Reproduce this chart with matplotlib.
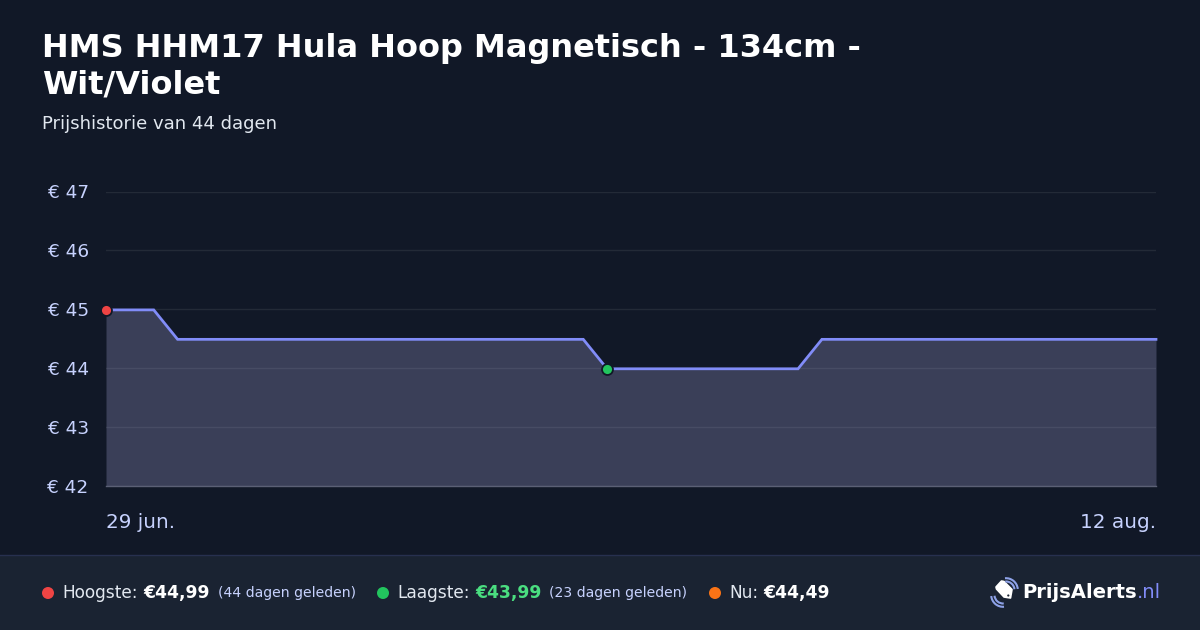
import matplotlib
matplotlib.use("Agg")
import matplotlib.pyplot as plt
from matplotlib.patches import Rectangle, Polygon, Arc, Circle
from matplotlib.ticker import FixedLocator, FuncFormatter

# ---- data ----
prices = [44.99, 44.99, 44.99] + [44.49] * 18 + [43.99] * 9 + [44.49] * 15
days = list(range(len(prices)))
y_ticks = [42, 43, 44, 45, 46, 47]
x_labels = ["29 jun.", "12 aug."]
high_idx = 0
low_idx = 21

title_lines = ["HMS HHM17 Hula Hoop Magnetisch - 134cm -", "Wit/Violet"]
subtitle = "Prijshistorie van 44 dagen"

W, H = 1200, 630
BG = "#111827"
FOOT = "#1a2332"
px = lambda v: v * 72 / 100

plt.rcParams["font.family"] = ["DejaVu Sans"]
fig = plt.figure(figsize=(12, 6.3), dpi=100, facecolor=BG)

# overlay in pixel coordinates for the footer and text
ov = fig.add_axes([0, 0, 1, 1], zorder=0)
ov.set_xlim(0, W)
ov.set_ylim(H, 0)
ov.axis("off")
ov.add_patch(Rectangle((0, 555), W, 75, fc=FOOT, ec="none"))
ov.plot([0, W], [554.5, 554.5], color="#27304f", lw=1)

ov.text(42, 48, title_lines[0], color="white", fontsize=px(32), fontweight="bold", va="center", ha="left")
ov.text(42, 85, title_lines[1], color="white", fontsize=px(32), fontweight="bold", va="center", ha="left")
ov.text(42, 124, subtitle, color="#e2e8f0", fontsize=px(18), va="center", ha="left")

# chart
ax = fig.add_axes([106 / W, 1 - 486 / H, 1050 / W, (486 - 191.5) / H], zorder=2)
ax.patch.set_alpha(0)
ax.set_xlim(days[0], days[-1])
ax.set_ylim(y_ticks[0], y_ticks[-1])
for s in ax.spines.values():
    s.set_visible(False)
ax.yaxis.set_major_locator(FixedLocator(y_ticks))
ax.yaxis.set_major_formatter(FuncFormatter(lambda v, _: f"€ {v:.0f}"))
ax.tick_params(axis="y", length=0, pad=12.5, labelcolor="#c7d2fe", labelsize=px(18.5))
for lab in ax.get_yticklabels():
    lab.set_ha("right")
ax.set_xticks([])
ax.grid(axis="y", color="#ffffff", alpha=0.08, lw=1)
ax.set_axisbelow(True)
ax.fill_between(days, prices, y_ticks[0], color="#b5b4eb", alpha=0.25, lw=0, zorder=1.5)
ax.axhline(y_ticks[0], color="#5b6075", lw=1, zorder=2, clip_on=False)
ax.plot(days, prices, color="#818cf8", lw=2.5 * 0.72 * 1.1, solid_joinstyle="miter", zorder=3, clip_on=False)
ax.scatter([days[high_idx]], [prices[high_idx]], s=62, color="#ef4444", edgecolors=BG, linewidths=1.3, zorder=5, clip_on=False)
ax.scatter([days[low_idx]], [prices[low_idx]], s=62, color="#22c55e", edgecolors=BG, linewidths=1.3, zorder=5, clip_on=False)

ov.text(106, 522, x_labels[0], color="#c7d2fe", fontsize=px(20), va="center", ha="left")
ov.text(1156, 522, x_labels[1], color="#c7d2fe", fontsize=px(20), va="center", ha="right")

# footer stats
def stat(x_dot, color, label, value, vcolor, extra=None):
    ov.add_patch(Circle((x_dot, 593), 6, fc=color, ec="none"))
    r = fig.canvas.get_renderer()
    t = ov.text(x_dot + 14.5, 593, label, color="#e2e8f0", fontsize=px(17), va="center", ha="left")
    x = t.get_window_extent(r).x1 + 5
    t = ov.text(x, 593, value, color=vcolor, fontsize=px(17.1), fontweight="bold", va="center", ha="left")
    if extra:
        ov.text(t.get_window_extent(r).x1 + 8, 593, extra, color="#c7d2fe", fontsize=px(14), va="center", ha="left")

stat(48, "#ef4444", "Hoogste:", "€44,99", "white", "(44 dagen geleden)")
stat(383, "#22c55e", "Laagste:", "€43,99", "#4ade80", "(23 dagen geleden)")
stat(715, "#f97316", "Nu:", "€44,49", "white")

# logo
ov.add_patch(Polygon([(996, 587), (1001.5, 581), (1004, 581.5), (1012, 589.5), (1010.5, 598), (1004, 597), (996.5, 589)],
                     closed=True, fc="white", ec="white", lw=1.2, joinstyle="round"))
ov.add_patch(Circle((1008.3, 595.5), 1.1, fc=FOOT, ec="none"))
for r_ in (8.5, 11.8):
    ov.add_patch(Arc((1006, 590), 2 * r_, 2 * r_, theta1=-95, theta2=-5, color="#8ea2e8", lw=1.5))
    ov.add_patch(Arc((1003, 595), 2 * r_, 2 * r_, theta1=85, theta2=175, color="#8ea2e8", lw=1.5))
t = ov.text(1022, 592.5, "PrijsAlerts", color="white", fontsize=px(19.6), fontweight="bold", va="center", ha="left")
x1 = t.get_window_extent(fig.canvas.get_renderer()).x1
ov.text(x1, 592.5, ".nl", color="#818cf8", fontsize=px(19.6), va="center", ha="left")

fig.savefig("out.png", dpi=100, facecolor=BG)
